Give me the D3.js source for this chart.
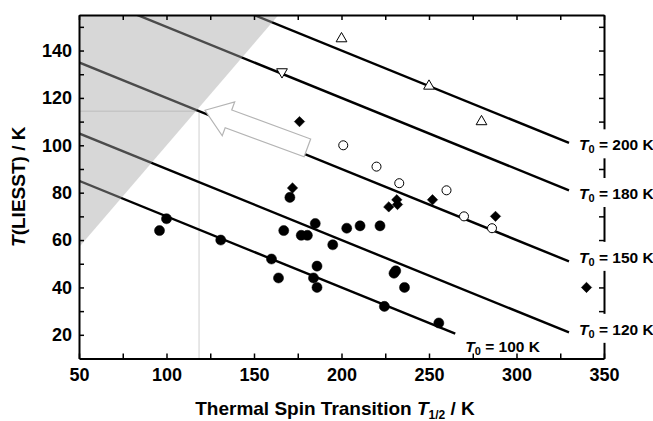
<!DOCTYPE html>
<html>
<head>
<meta charset="utf-8">
<script src="https://cdn.jsdelivr.net/npm/d3@7"></script>
<style>
  body { margin: 0; background: #fff; }
  text { font-family: "Liberation Sans", Arial, sans-serif; font-weight: bold; fill: #000; }
</style>
</head>
<body>
<div id="chart"></div>
<script>
// values
const xTicks = [50, 100, 150, 200, 250, 300, 350];
const yTicks = [20, 40, 60, 80, 100, 120, 140];
const t0Values = [100, 120, 150, 180, 200];
const t0EndX = [265, 330, 330, 330, 330];

const solidCircles = [
  [96, 64], [100, 69], [131, 60], [160, 52], [164, 44], [167, 64], [170.5, 78],
  [177, 62], [180.5, 62], [185, 67], [184, 44], [186, 49], [186, 40], [195, 58],
  [203, 65], [210.6, 66], [222, 66], [230, 46], [231, 47], [236, 40], [224.5, 32], [255.6, 25]
];
const solidDiamonds = [[172, 82], [176, 110], [227, 74], [231.6, 77], [232, 75], [252, 77], [288, 70], [340, 40]];
const openCircles = [[201, 100], [220, 91], [233, 84], [260, 81], [270, 70], [286, 65]];
const openTriUp = [[200, 145], [250, 125], [280, 110]];
const openTriDown = [[166, 131]];

const shadedRegion = [[50, 155], [164, 155], [50, 57]];
const guidePoint = [118.6, 114.4];
const arrowTip = [122, 114.8];
const arrowTail = [180.5, 98.9];

const W = 653, H = 421;
const svg = d3.select("#chart").append("svg")
  .attr("width", W)
  .attr("height", H);

const x = d3.scaleLinear().domain([50, 350]).range([79, 604]);
const y = d3.scaleLinear().domain([10, 155]).range([358.5, 15]);

svg.append("defs").append("clipPath").attr("id", "plotClip")
  .append("rect")
    .attr("x", x(50)).attr("y", y(155))
    .attr("width", x(350) - x(50)).attr("height", y(10) - y(155));

const plot = svg.append("g").attr("clip-path", "url(#plotClip)");

// guide lines to the crossing point
plot.append("line")
  .attr("x1", x(50)).attr("x2", x(guidePoint[0]))
  .attr("y1", y(guidePoint[1])).attr("y2", y(guidePoint[1]))
  .attr("stroke", "#cfcfcf").attr("stroke-width", 1);
plot.append("line")
  .attr("x1", x(guidePoint[0])).attr("x2", x(guidePoint[0]))
  .attr("y1", y(guidePoint[1])).attr("y2", y(10))
  .attr("stroke", "#cfcfcf").attr("stroke-width", 1);

// T(LIESST) = T0 - 0.3 T1/2
const line = d3.line().x(d => x(d[0])).y(d => y(d[1]));
plot.selectAll("path.t0").data(t0Values)
  .enter()
  .append("path")
    .attr("class", "t0")
    .attr("d", (d, i) => line([[50, d - 0.3 * 50], [t0EndX[i], d - 0.3 * t0EndX[i]]]))
    .attr("fill", "none")
    .attr("stroke", "#000")
    .attr("stroke-width", 2.4);

// shaded zone (semi transparent so the lines show through in grey)
plot.append("path")
  .attr("d", line(shadedRegion) + "Z")
  .attr("fill", "#a6a6a6")
  .attr("fill-opacity", 0.45);

// block arrow
{
  const tx = x(arrowTip[0]), ty = y(arrowTip[1]);
  const cx = x(arrowTail[0]), cy = y(arrowTail[1]);
  const len = Math.hypot(tx - cx, ty - cy);
  const ux = (tx - cx) / len, uy = (ty - cy) / len;
  const nx = -uy, ny = ux;
  const headL = 25, headW = 18, shaftW = 9.5;
  const bx = tx - ux * headL, by = ty - uy * headL;
  const pts = [
    [tx, ty],
    [bx + nx * headW, by + ny * headW],
    [bx + nx * shaftW, by + ny * shaftW],
    [cx + nx * shaftW, cy + ny * shaftW],
    [cx - nx * shaftW, cy - ny * shaftW],
    [bx - nx * shaftW, by - ny * shaftW],
    [bx - nx * headW, by - ny * headW]
  ];
  svg.append("path")
    .attr("d", "M" + pts.map(p => p.join(",")).join("L") + "Z")
    .attr("fill", "#fff")
    .attr("stroke", "#b4b4b4")
    .attr("stroke-width", 1.2);
}

// markers
const sym = d3.symbol();
function drawSeries(data, type, size, filled, rot) {
  svg.append("g").selectAll("path").data(data)
    .enter()
    .append("path")
      .attr("transform", d => `translate(${x(d[0])},${y(d[1])}) rotate(${rot})`)
      .attr("d", sym.type(type).size(size)())
      .attr("fill", filled ? "#000" : "#fff")
      .attr("stroke", "#000")
      .attr("stroke-width", filled ? 0.5 : 1);
}
drawSeries(solidCircles, d3.symbolCircle, 80, true, 0);
drawSeries(solidDiamonds, d3.symbolSquare, 54, true, 45);
drawSeries(openCircles, d3.symbolCircle, 64, false, 0);
drawSeries(openTriUp, d3.symbolTriangle, 50, false, 0);
drawSeries(openTriDown, d3.symbolTriangle, 50, false, 180);

// axes, ticks pointing inwards
function styleAxis(g) {
  g.select(".domain").attr("stroke-width", 2);
  g.selectAll(".tick line").attr("stroke-width", 1.5);
  g.selectAll("text").attr("font-size", 18).attr("font-family", null);
}

svg.append("g")
  .attr("transform", `translate(0,${y(10)})`)
  .call(d3.axisBottom(x).tickValues(d3.range(50, 351, 25))
    .tickFormat(d => xTicks.includes(d) ? d : "")
    .tickSize(-5).tickSizeOuter(0).tickPadding(10))
  .call(styleAxis);

svg.append("g")
  .attr("transform", `translate(0,${y(155)})`)
  .call(d3.axisTop(x).tickValues(d3.range(50, 351, 25))
    .tickFormat("").tickSize(-5).tickSizeOuter(0))
  .call(styleAxis);

svg.append("g")
  .attr("transform", `translate(${x(50)},0)`)
  .call(d3.axisLeft(y).tickValues(d3.range(20, 151, 10))
    .tickFormat(d => yTicks.includes(d) ? d : "")
    .tickSize(-5).tickSizeOuter(0).tickPadding(7))
  .call(styleAxis);

svg.append("g")
  .attr("transform", `translate(${x(350)},0)`)
  .call(d3.axisRight(y).tickValues(d3.range(20, 151, 10))
    .tickFormat("").tickSize(-5).tickSizeOuter(0))
  .call(styleAxis);

// T0 labels with white boxes that break the right axis
const labelDy = [18, 2.4, 1.5, 8.7, 7.4];
const labels = svg.append("g");
t0Values.forEach((t0, i) => {
  const ex = x(t0EndX[i]), ey = y(t0 - 0.3 * t0EndX[i]);
  const bx = ex + 10, by = ey + labelDy[i];
  if (i > 0) {
    labels.append("rect")
      .attr("x", ex + 1).attr("y", by - 21)
      .attr("width", W - ex).attr("height", 29)
      .attr("fill", "#fff");
  }
  const t = labels.append("text")
    .attr("x", bx).attr("y", by)
    .attr("font-size", 15.5);
  t.append("tspan").attr("font-style", "italic").text("T");
  t.append("tspan").attr("font-size", 11).attr("dy", 3).text("0");
  t.append("tspan").attr("dy", -3).text(` = ${t0} K`);
});

// axis titles
const xt = svg.append("text")
  .attr("x", 335).attr("y", 415)
  .attr("text-anchor", "middle")
  .attr("font-size", 19);
xt.append("tspan").text("Thermal Spin Transition ");
xt.append("tspan").attr("font-style", "italic").text("T");
xt.append("tspan").attr("font-size", 12).attr("dy", 4).text("1/2");
xt.append("tspan").attr("dy", -4).text(" / K");

const yt = svg.append("text")
  .attr("transform", `translate(25,${(y(10) + y(155)) / 2}) rotate(-90)`)
  .attr("text-anchor", "middle")
  .attr("font-size", 19);
yt.append("tspan").attr("font-style", "italic").text("T");
yt.append("tspan").text("(LIESST) / K");
</script>
</body>
</html>
